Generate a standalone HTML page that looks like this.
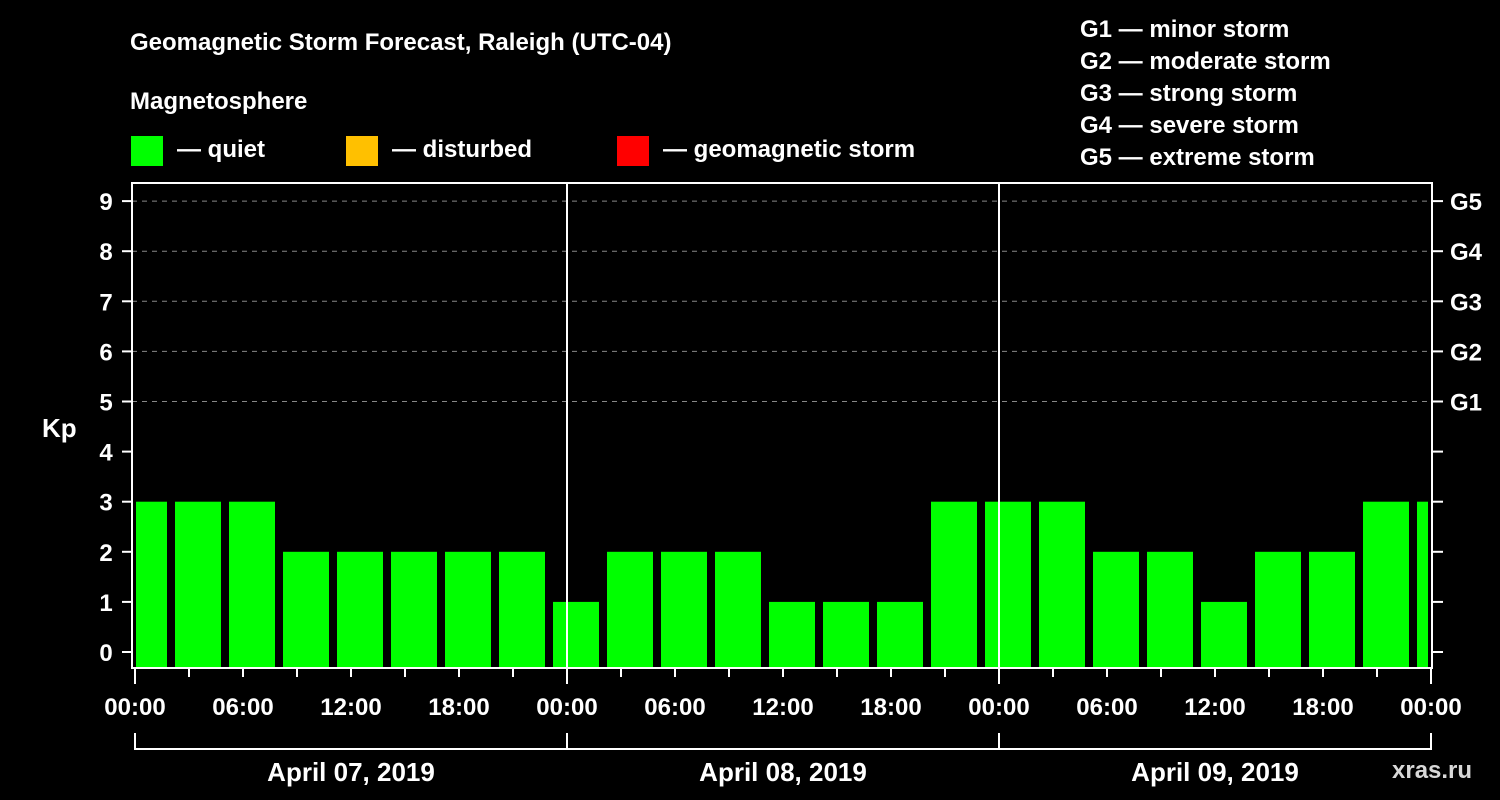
<!DOCTYPE html>
<html><head><meta charset="utf-8"><style>
html,body{margin:0;padding:0;background:#000;width:1500px;height:800px;overflow:hidden}
svg text{font-family:"Liberation Sans",Arial,sans-serif;font-weight:bold;fill:#fff}
</style></head><body>
<svg id="chart" width="1500" height="800" xmlns="http://www.w3.org/2000/svg">
<text x="130" y="50" font-size="24">Geomagnetic Storm Forecast, Raleigh (UTC-04)</text>
<text x="130" y="109" font-size="24">Magnetosphere</text>
<g>
<rect x="131" y="136" width="32" height="30" fill="#00ff00"/>
<text x="177" y="157" font-size="24">— quiet</text>
<rect x="346" y="136" width="32" height="30" fill="#ffc000"/>
<text x="392" y="157" font-size="24">— disturbed</text>
<rect x="617" y="136" width="32" height="30" fill="#ff0000"/>
<text x="663" y="157" font-size="24">— geomagnetic storm</text>
</g>
<g font-size="24">
<text x="1080" y="37">G1 — minor storm</text>
<text x="1080" y="69">G2 — moderate storm</text>
<text x="1080" y="101">G3 — strong storm</text>
<text x="1080" y="133">G4 — severe storm</text>
<text x="1080" y="165">G5 — extreme storm</text>
</g>
<text x="42" y="437" font-size="26">Kp</text>
<text x="1392" y="778" font-size="24" fill="#ccc" style="fill:#d8d8d8">xras.ru</text>
<g id="grid"></g><g id="bars"></g><g id="axes"></g>
</svg>
<script>
const kpValues=[3,3,3,2,2,2,2,2,1,2,2,2,1,1,1,3,3,3,2,2,1,2,2,3,3];
const yTicks=[0,1,2,3,4,5,6,7,8,9];
const gLabels=["G1","G2","G3","G4","G5"];
const gLevels=[5,6,7,8,9];
const timeLabels=["00:00","06:00","12:00","18:00","00:00","06:00","12:00","18:00","00:00","06:00","12:00","18:00","00:00"];
const dayLabels=["April 07, 2019","April 08, 2019","April 09, 2019"];
const NS="http://www.w3.org/2000/svg";
const X0=135,PXH=18,L=132,R=1432,T=183,B=668;
const xs=h=>X0+h*PXH, ys=k=>652-50.1*k;
function mk(p,t,a){const e=document.createElementNS(NS,t);for(const k in a)e.setAttribute(k,a[k]);p.appendChild(e);return e;}
const grid=document.getElementById('grid'),bars=document.getElementById('bars'),axes=document.getElementById('axes');
gLevels.forEach((k,i)=>{
 const l=mk(grid,'line',{x1:L,x2:R,y1:ys(k),y2:ys(k),stroke:'#888','stroke-dasharray':'5,5','stroke-width':1});
 
 
 const t=mk(axes,'text',{x:1450,y:ys(k)+9,'font-size':24});t.textContent=gLabels[i];
 
 
});
kpValues.forEach((v,i)=>{
 let x1=xs(-1+3*i)+4,x2=xs(-1+3*i)+50;
 x1=Math.max(x1,X0+1);x2=Math.min(x2,1428);
 if(x2<=x1)return;
 const r=mk(bars,'rect',{x:x1,y:ys(v),width:x2-x1,height:B-ys(v),fill:'#00ff00'});
 
 
});
const fr=mk(axes,'rect',{x:L,y:T,width:R-L,height:B-T,fill:'none',stroke:'#fff','stroke-width':2});


[1,2].forEach(d=>{const l=mk(axes,'line',{x1:xs(24*d),x2:xs(24*d),y1:T,y2:B,stroke:'#fff','stroke-width':2});
 
 });
yTicks.forEach(k=>{
 mk(axes,'line',{x1:122,x2:L,y1:ys(k),y2:ys(k),stroke:'#fff','stroke-width':2});
 mk(axes,'line',{x1:R,x2:1443,y1:ys(k),y2:ys(k),stroke:'#fff','stroke-width':2});
 const t=mk(axes,'text',{x:106,y:ys(k)+9,'font-size':24,'text-anchor':'middle'});t.textContent=k;
 
 
});
for(let h=0;h<=72;h+=3){
 const major=h%24===0;
 mk(axes,'line',{x1:xs(h),x2:xs(h),y1:B,y2:B+(major?16:9),stroke:'#fff','stroke-width':2});
}
timeLabels.forEach((s,i)=>{const t=mk(axes,'text',{x:xs(6*i),y:715,'font-size':24,'text-anchor':'middle'});t.textContent=s;
 
 });
mk(axes,'line',{x1:xs(0),x2:xs(72),y1:749,y2:749,stroke:'#fff','stroke-width':2});
for(let d=0;d<=3;d++)mk(axes,'line',{x1:xs(24*d),x2:xs(24*d),y1:733,y2:750,stroke:'#fff','stroke-width':2});
dayLabels.forEach((s,i)=>{const t=mk(axes,'text',{x:xs(24*i+12),y:781,'font-size':26,'text-anchor':'middle'});t.textContent=s;
 
 });
</script>
</body></html>
